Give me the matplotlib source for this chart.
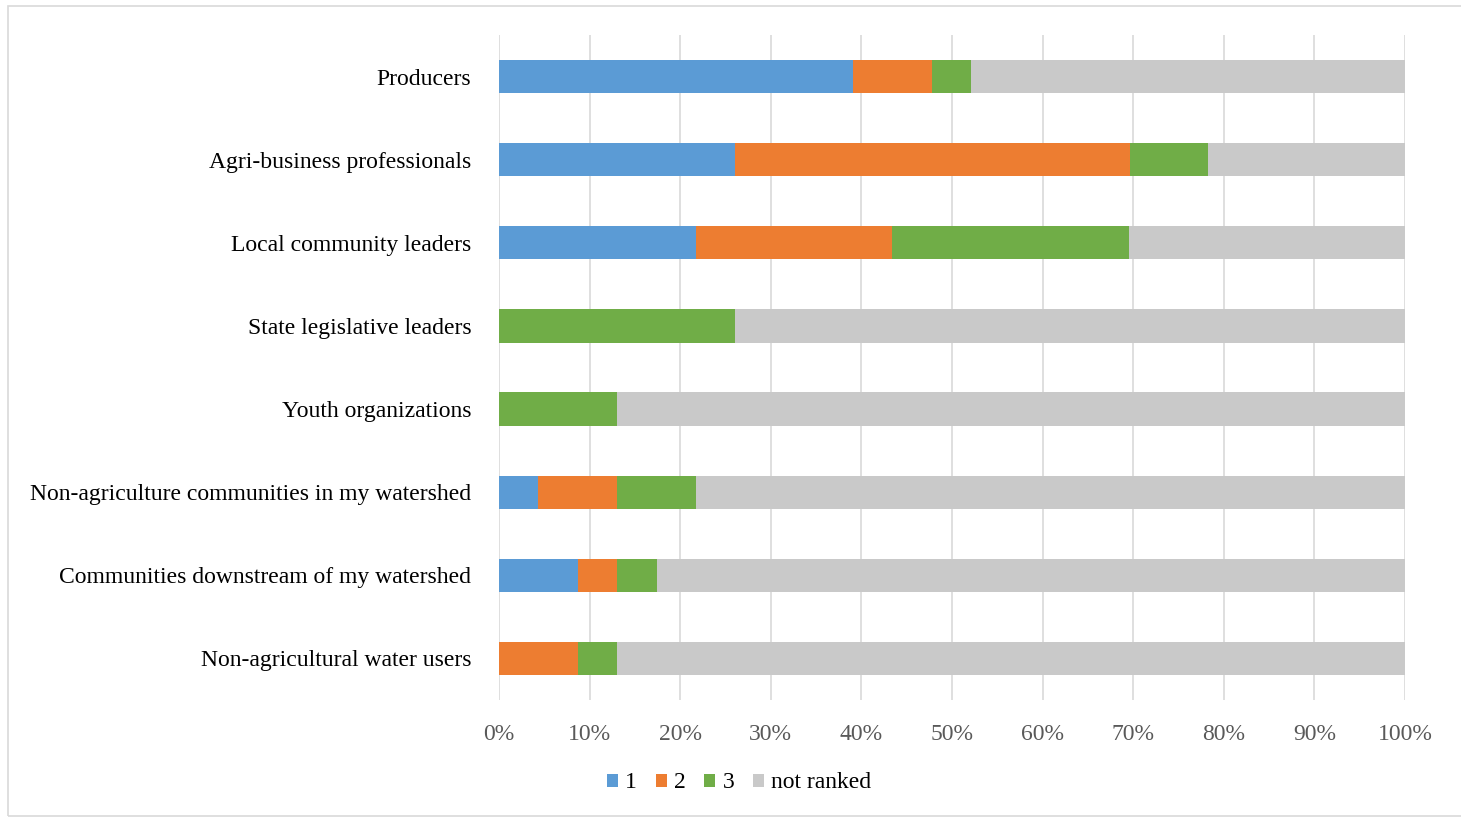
import matplotlib.pyplot as plt
import numpy as np
from matplotlib.patches import Rectangle

plt.rcParams['font.family'] = ['Liberation Serif', 'DejaVu Serif']

groups = ['Producers', 'Agri-business professionals', 'Local community leaders',
          'State legislative leaders', 'Youth organizations',
          'Non-agriculture communities in my watershed',
          'Communities downstream of my watershed', 'Non-agricultural water users']
# share of respondents (%) ranking each group 1st, 2nd, 3rd or not at all
rank1 = [39.1, 26.1, 21.7, 0.0, 0.0, 4.35, 8.7, 0.0]
rank2 = [8.7, 43.5, 21.7, 0.0, 0.0, 8.7, 4.35, 8.7]
rank3 = [4.35, 8.7, 26.1, 26.1, 13.0, 8.7, 4.35, 4.35]
not_ranked = [47.85, 21.7, 30.5, 73.9, 87.0, 78.25, 82.6, 87.0]

series = [('1', rank1, '#5b9bd5'), ('2', rank2, '#ed7d31'),
          ('3', rank3, '#70ad47'), ('not ranked', not_ranked, '#c9c9c9')]

fig = plt.figure(figsize=(14.61, 8.18), dpi=100)
fig.patches.append(Rectangle((8 / 1461, 2 / 818), 1470 / 1461, 810 / 818,
                             transform=fig.transFigure, fill=False,
                             edgecolor='#d9d9d9', linewidth=1.2))
ax = fig.add_axes([499 / 1461, 1 - 700 / 818, 906 / 1461, 665 / 818])

y = np.arange(len(groups))
left = np.zeros(len(groups))
handles = []
for name, vals, col in series:
    vals = np.array(vals)
    h = ax.barh(y, vals, left=left, height=0.4, color=col, label=name, zorder=3)
    left += vals
    handles.append(h)

ax.set_xlim(0, 100)
ax.set_ylim(len(groups) - 0.5, -0.5)
ax.set_xticks(np.arange(0, 101, 10))
ax.set_xticklabels([f'{v}%' for v in range(0, 101, 10)])
ax.set_yticks(y)
ax.set_yticklabels(groups)
ax.tick_params(axis='x', length=0, pad=17, labelsize=17, labelcolor='#595959')
ax.tick_params(axis='y', length=0, pad=20, labelsize=17, labelcolor='black')
ax.grid(axis='x', color='#d9d9d9', linewidth=1.2, zorder=0)
for s in ax.spines.values():
    s.set_visible(False)

fig.legend(handles=handles, loc='center', bbox_to_anchor=(739 / 1461, 1 - 783 / 818),
           ncol=4, frameon=False, fontsize=17, handlelength=0.47, handleheight=0.47,
           handletextpad=0.3, columnspacing=0.8)

fig.savefig('out.png', dpi=100)
